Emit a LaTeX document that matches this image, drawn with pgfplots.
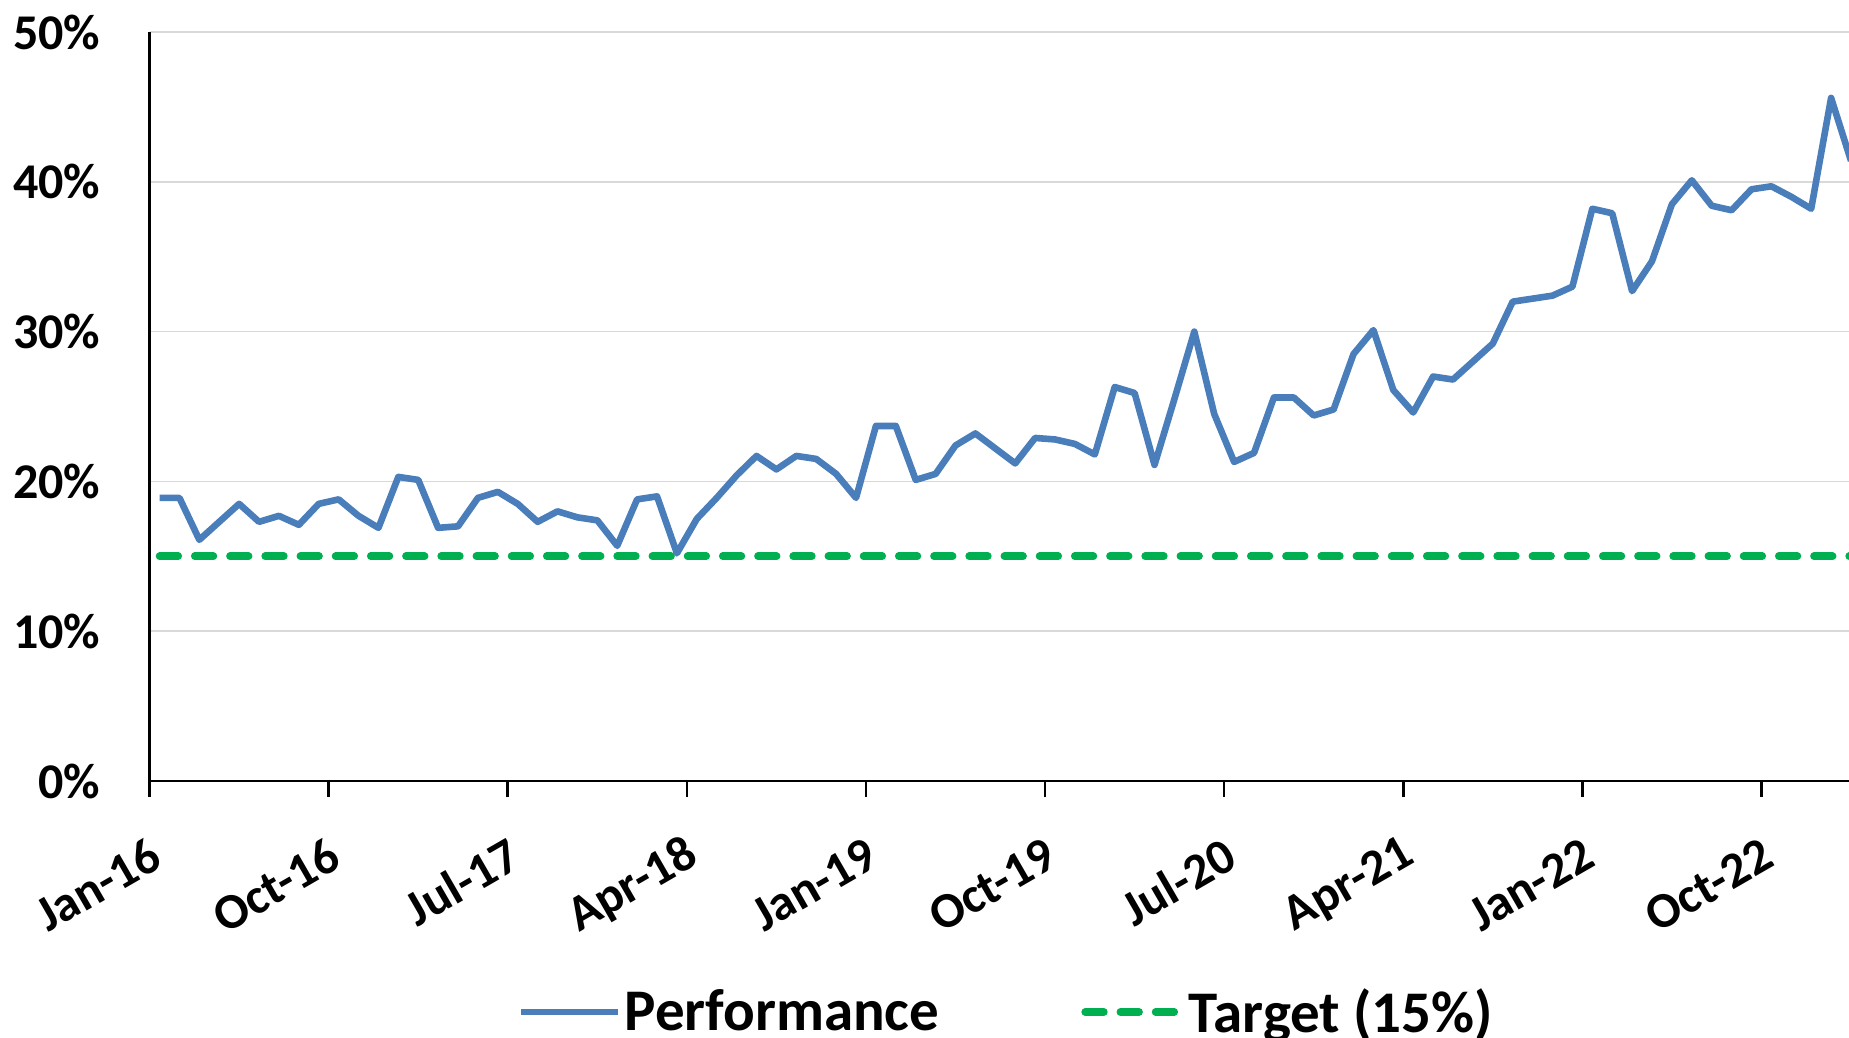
\documentclass[border=0pt]{standalone}
\usepackage{pgfplots}
\pgfplotsset{compat=1.18}
\usepackage{fontspec}
\setmainfont{Carlito}
\definecolor{perfblue}{HTML}{4A7EBB}
\definecolor{targetgreen}{HTML}{00B050}
\definecolor{gridgray}{HTML}{D9D9D9}
\pgfplotstableread{
x y
0.5 18.9
1.5 18.9
2.5 16.1
3.5 17.3
4.5 18.5
5.5 17.3
6.5 17.7
7.5 17.1
8.5 18.5
9.5 18.8
10.5 17.7
11.5 16.9
12.5 20.3
13.5 20.1
14.5 16.9
15.5 17.0
16.5 18.9
17.5 19.3
18.5 18.5
19.5 17.3
20.5 18.0
21.5 17.6
22.5 17.4
23.5 15.7
24.5 18.8
25.5 19.0
26.5 15.2
27.5 17.5
28.5 18.9
29.5 20.4
30.5 21.7
31.5 20.8
32.5 21.7
33.5 21.5
34.5 20.5
35.5 18.9
36.5 23.7
37.5 23.7
38.5 20.1
39.5 20.5
40.5 22.4
41.5 23.2
42.5 22.2
43.5 21.2
44.5 22.9
45.5 22.8
46.5 22.5
47.5 21.8
48.5 26.3
49.5 25.9
50.5 21.1
51.5 25.5
52.5 30.0
53.5 24.5
54.5 21.3
55.5 21.9
56.5 25.6
57.5 25.6
58.5 24.4
59.5 24.8
60.5 28.5
61.5 30.1
62.5 26.1
63.5 24.6
64.5 27.0
65.5 26.8
66.5 28.0
67.5 29.2
68.5 32.0
69.5 32.2
70.5 32.4
71.5 33.0
72.5 38.2
73.5 37.9
74.5 32.7
75.5 34.7
76.5 38.5
77.5 40.1
78.5 38.4
79.5 38.1
80.5 39.5
81.5 39.7
82.5 39.0
83.5 38.2
84.5 45.6
85.5 41.4
}\perf
\begin{document}
\begin{tikzpicture}[x=1pt,y=1pt]
\useasboundingbox (0,0) rectangle (924.5,519);
\begin{axis}[
  at={(74.8pt,128.5pt)}, anchor=south west,
  scale only axis, width=849.7pt, height=374.5pt,
  xmin=0, xmax=85.4, ymin=0, ymax=50,
  axis x line*=bottom, axis y line*=left,
  axis line style={-, line width=1.3pt, black},
  xtick={0,9,...,81},
  xticklabels={Jan-16,Oct-16,Jul-17,Apr-18,Jan-19,Oct-19,Jul-20,Apr-21,Jan-22,Oct-22},
  ytick={0,10,...,50},
  yticklabels={0\%,10\%,20\%,30\%,40\%,50\%},
  ymajorgrids, grid style={color=gridgray, line width=0.75pt},
  tick align=outside, major tick length=8pt,
  xtick style={black, line width=1.3pt},
  ytick style={draw=none},
  tick label style={font=\bfseries\fontsize{25}{30}\selectfont, inner sep=0pt},
  yticklabel style={anchor=east, xshift=-16.5pt},
  xticklabel style={xshift=3.5pt, yshift=-27pt, rotate=30, anchor=east},
  legend style={at={(0.5037,-0.3084)}, anchor=center, draw=none, fill=none,
    legend columns=2, font=\bfseries\fontsize{29.5}{35}\selectfont,
    nodes={inner sep=0pt},
    /tikz/every odd column/.append style={column sep=1.5pt},
    /tikz/every even column/.append style={column sep=71pt}},
  legend image code/.code={\draw[#1] (0pt,0pt) -- (48.5pt,0pt);},
]
\addplot[color=perfblue, line width=3.3pt, line join=round] table[x=x,y=y] {\perf};
\addlegendentry{Performance}
\addplot[color=targetgreen, line width=3.8pt, line cap=round, dash pattern=on 9.35pt off 8.25pt] coordinates {(0.5,15) (85.5,15)};
\addlegendentry{Target (15\%)}
\end{axis}
\end{tikzpicture}
\end{document}
